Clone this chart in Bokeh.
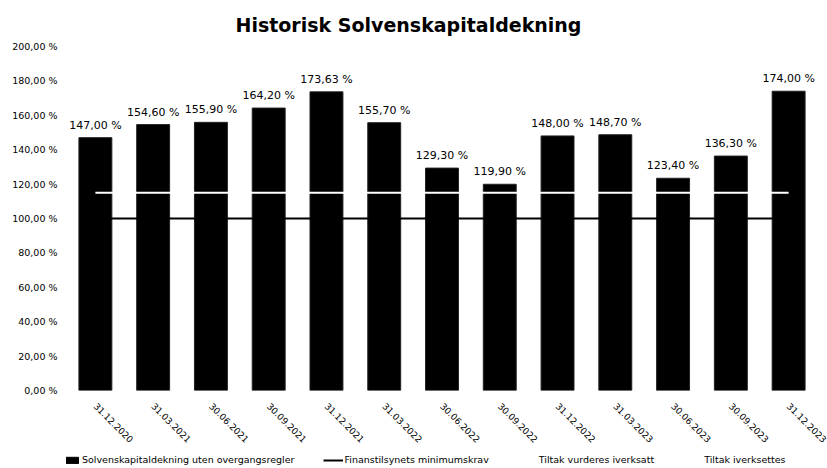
import math
from bokeh.plotting import figure
from bokeh.layouts import column
from bokeh.models import ColumnDataSource, Legend, LegendItem, FactorRange, Range1d, FixedTicker
from bokeh.embed import file_html
from bokeh.resources import INLINE
from bokeh.core.properties import value

dates = ["31.12.2020", "31.03.2021", "30.06.2021", "30.09.2021", "31.12.2021",
         "31.03.2022", "30.06.2022", "30.09.2022", "31.12.2022", "31.03.2023",
         "30.06.2023", "30.09.2023", "31.12.2023"]
solvency = [147.00, 154.60, 155.90, 164.20, 173.63, 155.70, 129.30, 119.90,
            148.00, 148.70, 123.40, 136.30, 174.00]
minimum_req = [100] * 13
tiltak_vurderes = [125] * 13
tiltak_iverksettes = [115] * 13
y_ticks = [0, 20, 40, 60, 80, 100, 120, 140, 160, 180, 200]
legend_labels = ["Solvenskapitaldekning uten overgangsregler", "Finanstilsynets minimumskrav",
                 "Tiltak vurderes iverksatt", "Tiltak iverksettes"]


def fmt(v):
    return f"{v:.2f}".replace(".", ",") + " %"


bar_labels = [fmt(v) for v in solvency]
FONT = "DejaVu Sans"

src = ColumnDataSource(dict(x=dates, y=solvency, lab=bar_labels,
                            mn=minimum_req, tv=tiltak_vurderes, ti=tiltak_iverksettes))

p = figure(width=827, height=448, output_backend="svg", toolbar_location=None,
           x_range=FactorRange(factors=dates, range_padding=0),
           y_range=Range1d(0, 200),
           min_border_left=66, min_border_right=10, min_border_top=42, min_border_bottom=58)
p.title.text = "Historisk Solvenskapitaldekning"
p.title.align = "left"
p.title.offset = 169
p.title.standoff = 22
p.title.text_font = FONT
p.title.text_font_size = "19px"
p.title.text_font_style = "bold"
p.title.text_color = "black"

p.outline_line_color = None
p.grid.grid_line_color = None

p.line(x="x", y="tv", source=src, line_color="white", line_width=1.5)
p.vbar(x="x", top="y", width=0.57, source=src, fill_color="black", line_color="#222222")
p.text(x="x", y="y", text="lab", source=src, text_align="center", text_baseline="bottom",
       y_offset=-6, text_font=value(FONT), text_font_size="11px", text_color="black")
p.line(x="x", y="mn", source=src, line_color="black", line_width=2)
p.line(x="x", y="ti", source=src, line_color="white", line_width=2)

p.yaxis.ticker = FixedTicker(ticks=y_ticks)
p.yaxis.major_label_overrides = {t: fmt(t) for t in y_ticks}
for ax in (p.xaxis[0], p.yaxis[0]):
    ax.axis_line_color = None
    ax.major_tick_line_color = None
    ax.minor_tick_line_color = None
    ax.major_label_text_font = FONT
    ax.major_label_text_color = "black"
p.yaxis.major_label_text_font_size = "9.5px"
p.yaxis.major_label_standoff = 3
p.xaxis.major_label_text_font_size = "9px"
p.xaxis.major_label_orientation = -math.pi / 4
p.xaxis.major_label_standoff = 8

# legend strip below the chart (same data, out of view, only for the legend glyphs)
p2 = figure(width=827, height=20, output_backend="svg", toolbar_location=None,
            x_range=FactorRange(factors=dates, range_padding=0), y_range=Range1d(1000, 1001),
            x_axis_type=None, y_axis_type=None,
            min_border_left=0, min_border_right=0, min_border_top=0, min_border_bottom=0)
p2.title.visible = False
p2.outline_line_color = None
p2.grid.grid_line_color = None
r_bar = p2.vbar(x="x", top="y", width=0.57, source=src, fill_color="black", line_color="black")
r_min = p2.line(x="x", y="mn", source=src, line_color="black", line_width=2)
r_tv = p2.line(x="x", y="tv", source=src, line_color="white", line_width=2)
r_ti = p2.line(x="x", y="ti", source=src, line_color="white", line_width=2)

legend = Legend(items=[
    LegendItem(label=legend_labels[0], renderers=[r_bar]),
    LegendItem(label=legend_labels[1], renderers=[r_min]),
    LegendItem(label=legend_labels[2], renderers=[r_tv]),
    LegendItem(label=legend_labels[3], renderers=[r_ti]),
], orientation="horizontal", location=(-6, 3))
legend.border_line_color = None
legend.background_fill_alpha = 0
legend.label_text_font = FONT
legend.label_text_font_size = "9.5px"
legend.label_text_color = "black"
legend.glyph_width = 20
legend.glyph_height = 8
legend.spacing = 28
legend.padding = 0
legend.margin = 0
legend.label_standoff = 2
p2.add_layout(legend, "center")

layout = column(p, p2, spacing=0)
open("out.html", "w").write(file_html(layout, INLINE))
